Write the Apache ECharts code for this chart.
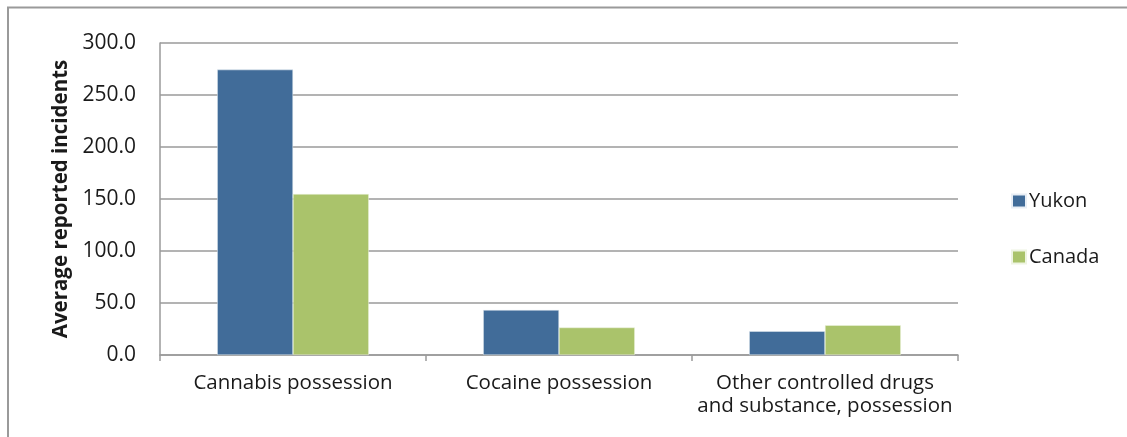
<!DOCTYPE html>
<html>
<head>
<meta charset="utf-8">
<script src="https://cdn.jsdelivr.net/npm/echarts@6/dist/echarts.min.js"></script>
<style>
  html, body { margin: 0; padding: 0; background: #fff; }
  #chart { width: 1127px; height: 437px; }
</style>
</head>
<body>
<div id="chart"></div>
<script>
// Drug possession offences: average reported incidents
const categories = [
  'Cannabis possession',
  'Cocaine possession',
  'Other controlled drugs\nand substance, possession'
];
const seriesNames = ['Yukon', 'Canada'];
const yukonValues = [274.4, 43.3, 22.9];
const canadaValues = [154.8, 26.4, 28.6];
const yTicks = { min: 0, max: 300, interval: 50 };

const FONT = '"Open Sans", "Noto Sans", sans-serif';
const TEXT = '#1a1a1a';
const RULE = '#9a9a9a';

const chart = echarts.init(document.getElementById('chart'), null, { renderer: 'canvas' });

chart.setOption({
  animation: false,
  backgroundColor: '#fff',
  textStyle: { fontFamily: FONT },
  // frame lines along the top and left edges
  graphic: [
    { type: 'line', shape: { x1: 7, y1: 7.5, x2: 1127, y2: 7.5 }, style: { stroke: RULE, lineWidth: 2 } },
    { type: 'line', shape: { x1: 8, y1: 7, x2: 8, y2: 437 }, style: { stroke: RULE, lineWidth: 2 } }
  ],
  grid: { left: 160, right: 169, top: 43, bottom: 82, containLabel: false },
  legend: {
    orient: 'vertical',
    left: 1006,
    top: 186,
    icon: 'rect',
    itemWidth: 14,
    itemHeight: 13,
    itemGap: 36,
    textStyle: { fontFamily: FONT, fontSize: 20, color: TEXT, padding: [0, 0, 0, -2] },
    data: seriesNames
  },
  xAxis: {
    type: 'category',
    data: categories,
    axisLine: { lineStyle: { color: RULE, width: 1.5 } },
    axisTick: { show: true, length: 6, lineStyle: { color: RULE, width: 1.5 } },
    axisLabel: {
      interval: 0,
      margin: 17,
      color: TEXT,
      fontFamily: FONT,
      fontSize: 20.5,
      lineHeight: 23
    }
  },
  yAxis: {
    type: 'value',
    min: yTicks.min,
    max: yTicks.max,
    interval: yTicks.interval,
    name: 'Average reported incidents',
    nameLocation: 'middle',
    nameGap: 86,
    nameTextStyle: { fontFamily: FONT, fontSize: 20.5, fontWeight: 'bold', color: TEXT },
    axisLine: { show: true, lineStyle: { color: RULE, width: 1.5 } },
    axisTick: { show: false },
    splitLine: { lineStyle: { color: RULE, width: 1.5 } },
    axisLabel: {
      margin: 24,
      color: TEXT,
      fontFamily: FONT,
      fontSize: 21,
      formatter: v => v.toFixed(1)
    }
  },
  series: [
    {
      name: seriesNames[0],
      type: 'bar',
      data: yukonValues,
      barGap: '0%',
      barCategoryGap: '43%',
      itemStyle: { color: '#416c99', borderColor: '#e8eef5', borderWidth: 0.5 }
    },
    {
      name: seriesNames[1],
      type: 'bar',
      data: canadaValues,
      barGap: '0%',
      barCategoryGap: '43%',
      itemStyle: { color: '#aac36b', borderColor: '#eef4e2', borderWidth: 0.5 }
    }
  ]
});
</script>
</body>
</html>
